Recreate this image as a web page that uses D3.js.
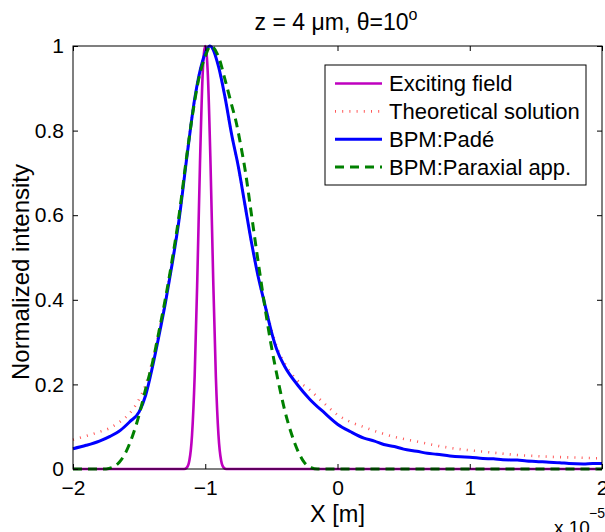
<!DOCTYPE html>
<html>
<head>
<meta charset="utf-8">
<script src="https://cdn.jsdelivr.net/npm/d3@7"></script>
<style>
body { margin: 0; background: #fff; }
text { font-family: "Liberation Sans", Arial, sans-serif; }
</style>
</head>
<body>
<script>
// x values are in units of 1e-5 m
const xTicks = [-2, -1, 0, 1, 2];
const xTickLabels = ["\u22122", "\u22121", "0", "1", "2"];
const yTicks = [0, 0.2, 0.4, 0.6, 0.8, 1];
const yTickLabels = ["0", "0.2", "0.4", "0.6", "0.8", "1"];
const seriesNames = ["Exciting field", "Theoretical solution", "BPM:Pad\u00e9", "BPM:Paraxial app."];

const excitingX = [-2, -1.16, -1.14, -1.12, -1.1, -1.08, -1.06, -1.04, -1.02, -1.0, -0.98, -0.96, -0.94, -0.92, -0.9, -0.88, -0.86, -0.84, 2];
const excitingY = [0, 0, 0.003, 0.02, 0.08, 0.22, 0.45, 0.72, 0.93, 1.0, 0.93, 0.72, 0.45, 0.22, 0.08, 0.02, 0.003, 0, 0];

const theoryX = [-2, -1.9, -1.8, -1.72, -1.64, -1.57, -1.5, -1.45, -1.4, -1.35, -1.3, -1.25, -1.2, -1.14, -1.08, -1.02, -0.965, -0.9, -0.85, -0.8, -0.75, -0.7, -0.65, -0.6, -0.55, -0.5, -0.46, -0.4, -0.33, -0.21, -0.1, 0, 0.1, 0.2, 0.35, 0.47, 0.6, 0.72, 0.85, 0.98, 1.1, 1.23, 1.36, 1.48, 1.6, 1.8, 2];
const theoryY = [0.069, 0.078, 0.088, 0.097, 0.113, 0.132, 0.165, 0.2, 0.255, 0.325, 0.4, 0.49, 0.59, 0.74, 0.875, 0.965, 1.0, 0.952, 0.878, 0.79, 0.715, 0.625, 0.535, 0.455, 0.39, 0.33, 0.29, 0.25, 0.218, 0.187, 0.155, 0.128, 0.111, 0.099, 0.083, 0.073, 0.065, 0.057, 0.05, 0.045, 0.041, 0.037, 0.033, 0.031, 0.029, 0.027, 0.025];

const padeX = [-2, -1.9, -1.8, -1.72, -1.64, -1.57, -1.5, -1.45, -1.4, -1.35, -1.3, -1.25, -1.2, -1.14, -1.08, -1.02, -0.965, -0.9, -0.85, -0.8, -0.75, -0.7, -0.65, -0.6, -0.55, -0.5, -0.46, -0.4, -0.3, -0.21, -0.1, 0, 0.1, 0.2, 0.28, 0.35, 0.43, 0.5, 0.6, 0.68, 0.75, 0.85, 0.93, 1.0, 1.1, 1.18, 1.25, 1.36, 1.43, 1.5, 1.6, 1.68, 1.75, 1.86, 1.93, 2];
const padeY = [0.048, 0.056, 0.066, 0.077, 0.092, 0.112, 0.135, 0.175, 0.24, 0.315, 0.395, 0.485, 0.585, 0.735, 0.875, 0.965, 1.0, 0.952, 0.878, 0.79, 0.715, 0.625, 0.535, 0.455, 0.39, 0.325, 0.283, 0.243, 0.198, 0.165, 0.133, 0.106, 0.088, 0.073, 0.066, 0.058, 0.053, 0.047, 0.042, 0.037, 0.035, 0.031, 0.029, 0.028, 0.025, 0.024, 0.022, 0.021, 0.019, 0.018, 0.016, 0.015, 0.013, 0.012, 0.013, 0.013];

const paraxialX = [-2, -1.75, -1.7, -1.65, -1.6, -1.55, -1.5, -1.45, -1.4, -1.35, -1.3, -1.25, -1.2, -1.14, -1.1, -1.04, -1.0, -0.96, -0.9, -0.85, -0.8, -0.77, -0.725, -0.7, -0.65, -0.6, -0.55, -0.5, -0.45, -0.4, -0.35, -0.3, -0.25, -0.2, -0.15, 2];
const paraxialY = [0, 0, 0.004, 0.016, 0.04, 0.078, 0.128, 0.19, 0.25, 0.325, 0.405, 0.495, 0.595, 0.74, 0.83, 0.935, 0.975, 1.0, 0.975, 0.92, 0.86, 0.825, 0.754, 0.71, 0.6, 0.49, 0.385, 0.29, 0.21, 0.14, 0.085, 0.043, 0.015, 0.003, 0, 0];

const margin = { top: 46, right: 3, bottom: 63, left: 73 };
const width = 605 - margin.left - margin.right;
const height = 532 - margin.top - margin.bottom;

const x = d3.scaleLinear().domain([-2, 2]).range([0, width]);
const y = d3.scaleLinear().domain([0, 1]).range([height, 0]);

const svg = d3.select("body").append("svg")
	.attr("width", 605)
	.attr("height", 532);

const chart = svg.append("g")
	.attr("transform", "translate(" + margin.left + "," + margin.top + ")");

// series, drawn in legend order
const series = [
	{ name: seriesNames[0], xs: excitingX, ys: excitingY, color: "#bf00bf", w: 2.6, dash: null },
	{ name: seriesNames[1], xs: theoryX, ys: theoryY, color: "#ff2020", w: 2.6, dash: "1,6.2", op: 0.75 },
	{ name: seriesNames[2], xs: padeX, ys: padeY, color: "#0000ff", w: 3, dash: null },
	{ name: seriesNames[3], xs: paraxialX, ys: paraxialY, color: "#008000", w: 3, dash: "9,6" }
];

const line = d3.line()
	.x((d) => x(d[0]))
	.y((d) => y(d[1]))
	.curve(d3.curveMonotoneX);

const plot = chart.append("g");
series.forEach((s) => {
	plot.append("path")
		.datum(s.xs.map((v, i) => [v, s.ys[i]]))
		.attr("fill", "none")
		.attr("stroke", s.color)
		.attr("stroke-width", s.w)
		.attr("stroke-opacity", s.op || 1)
		.attr("stroke-dasharray", s.dash)
		.attr("d", line);
});

// axes, ticks pointing inward
const tickFont = 21;
const xAxis = chart.append("g")
	.attr("transform", "translate(0," + height + ")")
	.call(d3.axisBottom(x).tickValues(xTicks).tickFormat((d, i) => xTickLabels[i])
		.tickSizeInner(-5).tickSizeOuter(0).tickPadding(11));
chart.append("g")
	.call(d3.axisTop(x).tickValues(xTicks).tickFormat("").tickSizeInner(-5).tickSizeOuter(0));
const yAxis = chart.append("g")
	.call(d3.axisLeft(y).tickValues(yTicks).tickFormat((d, i) => yTickLabels[i])
		.tickSizeInner(-5).tickSizeOuter(0).tickPadding(9));
chart.append("g")
	.attr("transform", "translate(" + width + ",0)")
	.call(d3.axisRight(y).tickValues(yTicks).tickFormat("").tickSizeInner(-5).tickSizeOuter(0));

chart.selectAll(".domain").remove();
chart.selectAll(".tick line").attr("stroke", "#000");
[xAxis, yAxis].forEach((a) => a.attr("font-size", tickFont)
	.attr("font-family", "Liberation Sans, Arial, sans-serif")
	.selectAll("text").attr("fill", "#000"));

chart.append("rect")
	.attr("width", width)
	.attr("height", height)
	.attr("fill", "none")
	.attr("stroke", "#000")
	.attr("stroke-width", 1);

// title
const title = svg.append("text")
	.attr("x", 336)
	.attr("y", 30)
	.attr("text-anchor", "middle")
	.attr("font-size", 23);
title.append("tspan").text("z = 4 \u03bcm, \u03b8=10");
title.append("tspan").attr("dy", -10).attr("font-size", 16).text("o");

// axis labels
svg.append("text")
	.attr("x", margin.left + width / 2)
	.attr("y", 522)
	.attr("text-anchor", "middle")
	.attr("font-size", 23.5)
	.text("X [m]");

svg.append("text")
	.attr("transform", "translate(29,272) rotate(-90)")
	.attr("text-anchor", "middle")
	.attr("font-size", 24)
	.text("Normalized intensity");

svg.append("text")
	.attr("x", 554)
	.attr("y", 534)
	.attr("font-size", 19)
	.text("x 10");
svg.append("text")
	.attr("x", 589)
	.attr("y", 518)
	.attr("font-size", 14)
	.text("\u22125");

// legend
const legend = svg.append("g").attr("transform", "translate(325,65)");
legend.append("rect")
	.attr("width", 261)
	.attr("height", 120)
	.attr("fill", "#fff")
	.attr("stroke", "#000")
	.attr("stroke-width", 1);

const rowY = d3.scalePoint().domain(seriesNames).range([18.5, 102]);
const rows = legend.selectAll(".row")
	.data(series)
	.enter()
	.append("g")
	.attr("transform", (d) => "translate(0," + rowY(d.name) + ")");
rows.append("line")
	.attr("x1", 10).attr("x2", 57)
	.attr("stroke", (d) => d.color)
	.attr("stroke-width", (d) => d.w)
	.attr("stroke-opacity", (d) => d.op || 1)
	.attr("stroke-dasharray", (d) => d.dash);
rows.append("text")
	.attr("x", 64)
	.attr("dy", "0.35em")
	.attr("font-size", 22)
	.text((d) => d.name);
</script>
</body>
</html>
